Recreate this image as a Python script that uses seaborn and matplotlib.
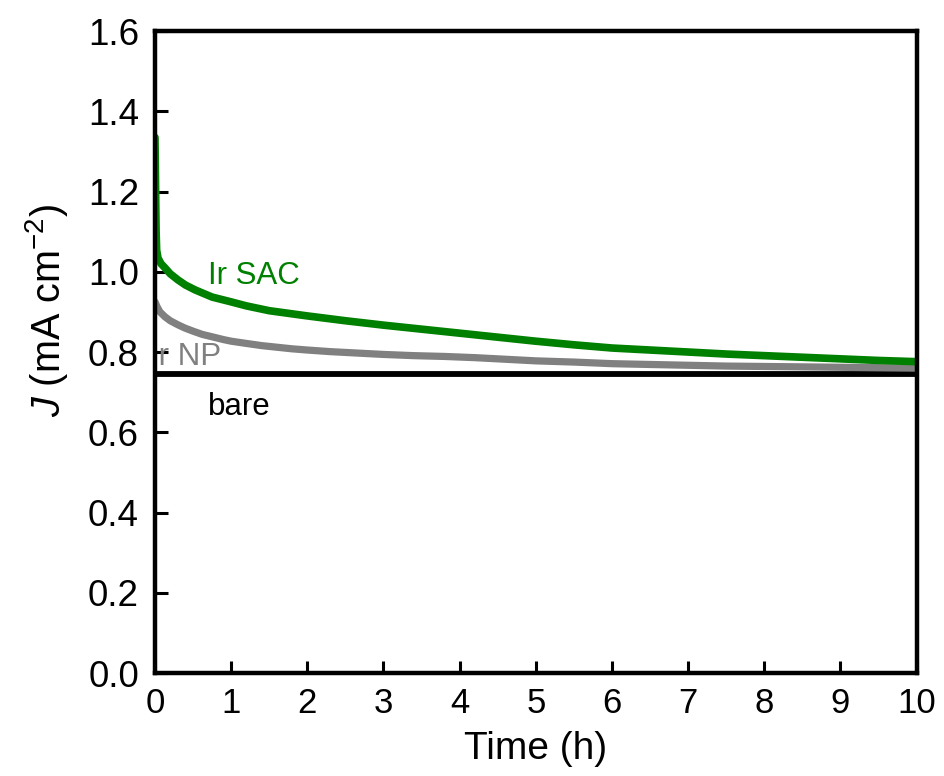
import matplotlib
matplotlib.use("Agg")
import matplotlib.pyplot as plt
import seaborn as sns
import pandas as pd

# chronoamperometry traces: time (h) and current density (mA cm^-2)
sac_time = [0.0, 0.005, 0.01, 0.015, 0.022, 0.04, 0.08, 0.13, 0.2, 0.3, 0.4, 0.525, 0.75,
            1.0, 1.2, 1.5, 2.0, 2.5, 3.0, 3.5, 4.0, 4.5, 5.0, 5.5, 6.0, 6.5, 7.0, 7.5, 8.0,
            8.5, 9.0, 9.5, 10.0]
sac_j = [1.335, 1.26, 1.17, 1.10, 1.054, 1.034, 1.020, 1.010, 0.995, 0.980, 0.967, 0.955,
         0.937, 0.925, 0.915, 0.903, 0.890, 0.878, 0.867, 0.857, 0.847, 0.837, 0.827, 0.818,
         0.810, 0.805, 0.800, 0.795, 0.791, 0.787, 0.783, 0.779, 0.776]

np_time = [0.0, 0.03, 0.065, 0.13, 0.2, 0.3, 0.39, 0.5, 0.62, 0.75, 0.9, 1.0, 1.18, 1.4,
           1.6, 1.8, 2.0, 2.3, 2.6, 3.0, 3.4, 3.8, 4.2, 4.6, 5.0, 5.5, 6.0, 6.5, 7.0, 7.5,
           8.0, 8.5, 9.0, 9.5, 10.0]
np_j = [0.925, 0.912, 0.900, 0.888, 0.878, 0.868, 0.860, 0.852, 0.844, 0.838, 0.831, 0.827,
        0.822, 0.816, 0.812, 0.808, 0.805, 0.801, 0.798, 0.794, 0.791, 0.789, 0.786, 0.782,
        0.778, 0.775, 0.771, 0.769, 0.767, 0.765, 0.764, 0.763, 0.762, 0.761, 0.760]

bare_time = [0.0, 10.0]
bare_j = [0.745, 0.745]

series_names = ["Ir SAC", "Ir NP", "bare"]
series_colors = ["#008000", "#808080", "#000000"]

x_ticks = list(range(0, 11))
y_ticks = [0.0, 0.2, 0.4, 0.6, 0.8, 1.0, 1.2, 1.4, 1.6]

sns.set_theme(style="ticks")
plt.rcParams["font.family"] = ["Liberation Sans", "DejaVu Sans"]
plt.rcParams["mathtext.fontset"] = "custom"
plt.rcParams["mathtext.rm"] = "Liberation Sans"
plt.rcParams["mathtext.it"] = "Liberation Sans:italic"
for key in ["text.color", "axes.labelcolor", "xtick.color", "ytick.color", "axes.edgecolor"]:
    plt.rcParams[key] = "black"

df = pd.concat([
    pd.DataFrame({"time": sac_time, "J": sac_j, "sample": series_names[0]}),
    pd.DataFrame({"time": np_time, "J": np_j, "sample": series_names[1]}),
    pd.DataFrame({"time": bare_time, "J": bare_j, "sample": series_names[2]}),
])

fig = plt.figure(figsize=(9.45, 7.76), dpi=100)
ax = fig.add_axes([0.164, 0.1327, 0.806, 0.8273])

widths = {"Ir SAC": 5.5, "Ir NP": 5.2, "bare": 4.2}
for name, color in zip(series_names[::-1], series_colors[::-1]):
    sub = df[df["sample"] == name]
    sns.lineplot(data=sub, x="time", y="J", ax=ax, color=color,
                 lw=widths[name], legend=False, estimator=None, sort=False, zorder=3)

label_size = 22.5
ax.text(0.7, 0.99, "Ir SAC", color=series_colors[0], fontsize=label_size,
        va="center", zorder=2)
ax.text(-0.07, 0.787, "Ir NP", color=series_colors[1], fontsize=label_size,
        va="center", zorder=1, clip_on=True)
ax.text(0.7, 0.662, "bare", color=series_colors[2], fontsize=label_size,
        va="center", zorder=2)

ax.set_xlim(0, 10)
ax.set_ylim(0, 1.6)
ax.set_xticks(x_ticks)
ax.set_yticks(y_ticks)
ax.set_xticklabels([str(t) for t in x_ticks], fontsize=25)
ax.set_yticklabels([f"{t:.1f}" for t in y_ticks], fontsize=26.5)
ax.tick_params(direction="in", length=9, width=2.2, colors="black")
ax.tick_params(axis="x", pad=10)
ax.tick_params(axis="y", pad=11.5)

for s in ax.spines.values():
    s.set_linewidth(3.2)
    s.set_zorder(4)

ax.set_xlabel("Time (h)", fontsize=28, labelpad=8)
ax.set_ylabel(r"$J$ (mA cm$^{-2}$)", fontsize=28.5)
ax.yaxis.set_label_coords(-0.112, 0.565)

fig.savefig("out.png", dpi=100)
